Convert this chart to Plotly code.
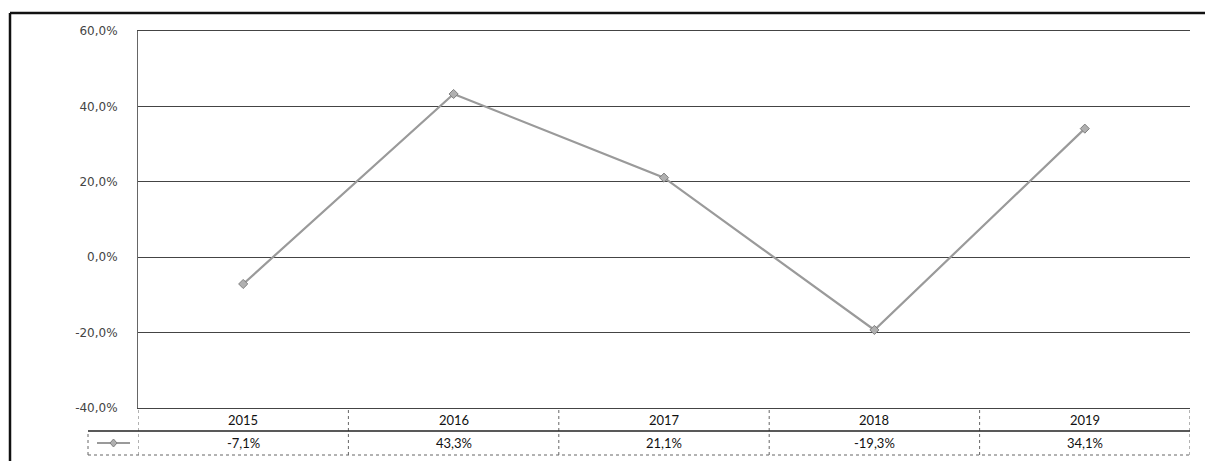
import plotly.graph_objects as go

years = ["2015", "2016", "2017", "2018", "2019"]
values = [-7.1, 43.3, 21.1, -19.3, 34.1]
tick_vals = [-40, -20, 0, 20, 40, 60]
tick_text = ["-40,0%", "-20,0%", "0,0%", "20,0%", "40,0%", "60,0%"]

W, H = 1205, 461
L, R, T, B = 138, 15, 31, 53
pw, ph = W - L - R, H - T - B

def py(pix):  # pixel y -> paper y
    return (H - B - pix) / ph

def px(pix):
    return (pix - L) / pw

fig = go.Figure()
xs = list(range(len(years)))
fig.add_trace(go.Scatter(
    x=xs, y=values, mode="lines+markers",
    line=dict(color="#9a9a9a", width=2.2),
    marker=dict(symbol="diamond", size=7, color="#b0b0b0",
                line=dict(color="#808080", width=1)),
    showlegend=False, cliponaxis=False,
))

shapes = []
grid_col = "#444444"
# table vertical lines
for i in range(len(years) + 1):
    shapes.append(dict(type="line", xref="x", yref="paper", x0=i - 0.5, x1=i - 0.5,
                       y0=py(455), y1=0, line=dict(color="#666666", width=1, dash="dot")))
# row separator and bottom
shapes.append(dict(type="line", xref="paper", yref="paper", x0=px(88), x1=1,
                   y0=py(431), y1=py(431), line=dict(color="#222222", width=1.5)))
shapes.append(dict(type="line", xref="paper", yref="paper", x0=px(88), x1=1,
                   y0=py(455), y1=py(455), line=dict(color="#666666", width=1, dash="dot")))
# legend key cell left border
shapes.append(dict(type="line", xref="paper", yref="paper", x0=px(88), x1=px(88),
                   y0=py(455), y1=py(431), line=dict(color="#666666", width=1, dash="dot")))
# legend key symbol
shapes.append(dict(type="line", xref="paper", yref="paper", x0=px(97), x1=px(130),
                   y0=py(443), y1=py(443), line=dict(color="#9a9a9a", width=2)))
shapes.append(dict(type="path", xref="paper", yref="paper",
                   path=f"M {px(113.5)},{py(439)} L {px(117)},{py(443)} L {px(113.5)},{py(447)} L {px(110)},{py(443)} Z",
                   fillcolor="#b0b0b0", line=dict(color="#808080", width=1)))
# outer border (top and left)
shapes.append(dict(type="line", xref="paper", yref="paper", x0=px(10), x1=px(1205),
                   y0=py(13), y1=py(13), line=dict(color="#111111", width=2.5)))
shapes.append(dict(type="line", xref="paper", yref="paper", x0=px(10), x1=px(10),
                   y0=py(13), y1=py(461), line=dict(color="#111111", width=2.5)))

annotations = []
tfont = dict(family="Lato", size=13, color="#111111")
for i, (yr, v) in enumerate(zip(years, values)):
    annotations.append(dict(x=i, y=py(419.5), xref="x", yref="paper", text=yr,
                            showarrow=False, font=tfont, yanchor="middle"))
    annotations.append(dict(x=i, y=py(443), xref="x", yref="paper",
                            text=f"{v:.1f}%".replace(".", ","),
                            showarrow=False, font=tfont, yanchor="middle"))

fig.update_layout(
    width=W, height=H,
    margin=dict(l=L, r=R, t=T, b=B),
    paper_bgcolor="white", plot_bgcolor="white",
    xaxis=dict(range=[-0.5, len(years) - 0.5], showticklabels=False, showgrid=False,
               zeroline=False, showline=True, mirror=True, linecolor=grid_col, linewidth=1),
    yaxis=dict(range=[-40, 60], tickvals=tick_vals, ticktext=tick_text,
               showgrid=True, gridcolor=grid_col, gridwidth=1, zeroline=False,
               showline=True, linecolor="#666666", linewidth=1,
               ticks="", ticklabelstandoff=17,
               tickfont=dict(family="DejaVu Sans", size=12, color="#444444")),
    shapes=shapes, annotations=annotations,
)

fig.write_html("out.html", config={"displayModeBar": False},
               post_script="document.body.style.margin='0';document.body.style.overflow='hidden';")
